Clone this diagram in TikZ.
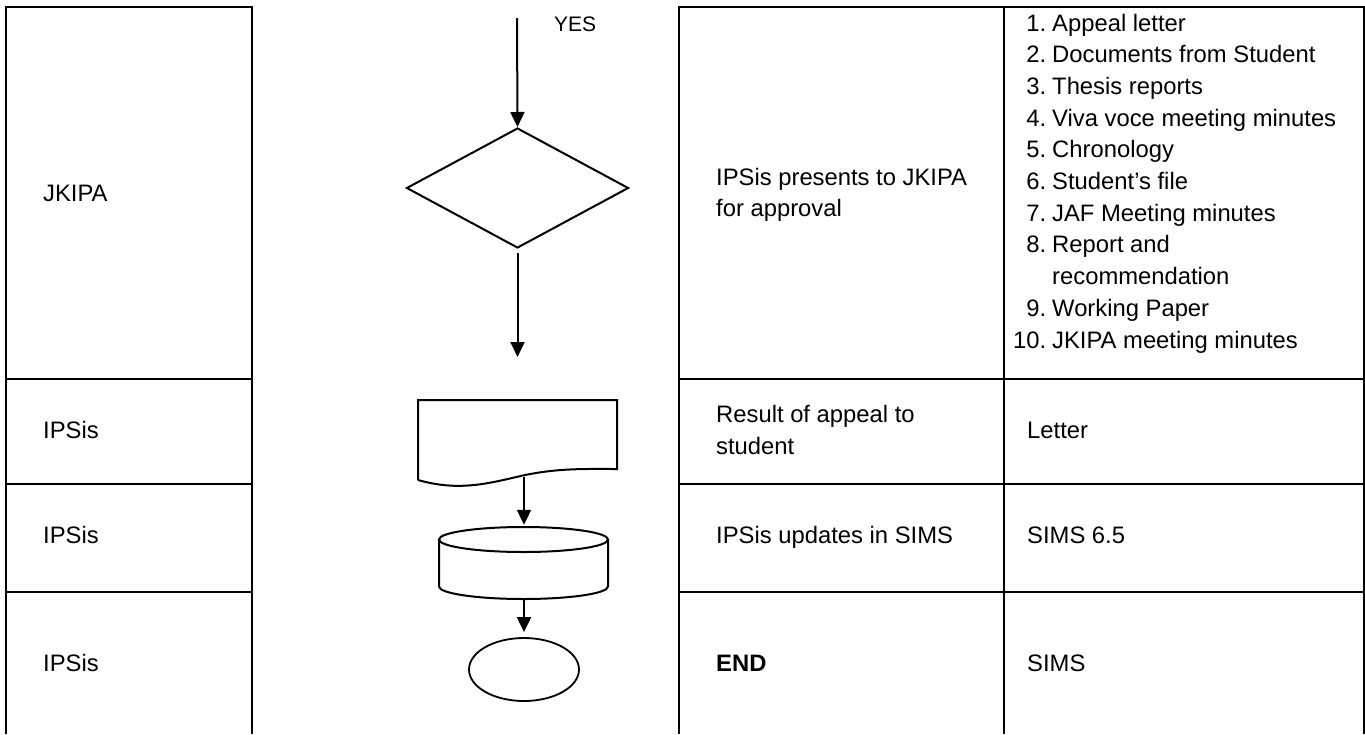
\documentclass[tikz,border=0pt]{standalone}
\usepackage{fontspec}
\setmainfont{Liberation Sans}
\usetikzlibrary{shapes.geometric,arrows.meta}
\begin{document}
\begin{tikzpicture}[x=1pt,y=-1pt,
  tbl/.style={line width=2pt},
  lbl/.style={anchor=base west, inner sep=0pt, font=\fontsize{23.8}{31.7}\selectfont},
  num/.style={anchor=base east, inner sep=0pt, font=\fontsize{23.8}{31.7}\selectfont},
  flow/.style={draw, line width=2pt},
  conn/.style={line width=2pt, -{Triangle[length=15pt,width=14pt]}}
]
\useasboundingbox (0,0) rectangle (1365,734);
% left table
\draw[tbl] (6,734) -- (6,7) -- (252,7) -- (252,734);
\draw[tbl] (6,379) -- (252,379);
\draw[tbl] (6,484) -- (252,484);
\draw[tbl] (6,592) -- (252,592);
% right table
\draw[tbl] (679,734) -- (679,7) -- (1364,7) -- (1364,734);
\draw[tbl] (1004,7) -- (1004,734);
\draw[tbl] (679,379) -- (1364,379);
\draw[tbl] (679,484) -- (1364,484);
\draw[tbl] (679,592) -- (1364,592);
% left texts
\node[lbl] (a1) at (43,201) {JKIPA};
\node[lbl] (a2) at (43,438) {IPSis};
\node[lbl] (a3) at (43,543) {IPSis};
\node[lbl] (a4) at (43,671) {IPSis};
% right column 1
\node[lbl] (b1a) at (716,185) {IPSis presents to JKIPA};
\node[lbl] (b1b) at (716,216) {for approval};
\node[lbl] (b2a) at (716,422) {Result of appeal to};
\node[lbl] (b2b) at (716,454) {student};
\node[lbl] (b3) at (716,543) {IPSis updates in SIMS};
\node[lbl, font=\fontsize{23.8}{31.7}\selectfont\bfseries] (b4) at (716,671) {END};
% right column 2
\node[num] (n1) at (1046.5,31) {1.};
\node[lbl] (i1) at (1052,31) {Appeal letter};
\node[num] (n2) at (1046.5,62.7) {2.};
\node[lbl] (i2) at (1052,62.7) {Documents from Student};
\node[num] (n3) at (1046.5,94.4) {3.};
\node[lbl] (i3) at (1052,94.4) {Thesis reports};
\node[num] (n4) at (1046.5,126.1) {4.};
\node[lbl] (i4) at (1052,126.1) {Viva voce meeting minutes};
\node[num] (n5) at (1046.5,157.8) {5.};
\node[lbl] (i5) at (1052,157.8) {Chronology};
\node[num] (n6) at (1046.5,189.5) {6.};
\node[lbl] (i6) at (1052,189.5) {Student’s file};
\node[num] (n7) at (1046.5,221.2) {7.};
\node[lbl] (i7) at (1052,221.2) {JAF Meeting minutes};
\node[num] (n8) at (1046.5,252.9) {8.};
\node[lbl] (i8) at (1052,252.9) {Report and};
\node[lbl] (i8b) at (1052,284.6) {recommendation};
\node[num] (n9) at (1046.5,316.3) {9.};
\node[lbl] (i9) at (1052,316.3) {Working Paper};
\node[num] (n10) at (1046.5,348) {10.};
\node[lbl] (i10) at (1052,348) {JKIPA meeting minutes};
\node[lbl] (c2) at (1027,438) {Letter};
\node[lbl] (c3) at (1027,543) {SIMS 6.5};
\node[lbl] (c4) at (1027,671) {SIMS};
% flow shapes
\node[lbl, font=\fontsize{21}{28}\selectfont] (yes) at (554,31) {YES};
\coordinate (start) at (517,18);
\node[flow, diamond, minimum width=222pt, minimum height=120pt, inner sep=0pt] (dia) at (517.5,188) {};
\coordinate (out1) at (517.5,357);
\node[inner sep=0pt, minimum width=199pt, minimum height=85pt] (doc) at (517.5,442.5) {};
\draw[flow, line join=miter] (418,480) -- (418,400) -- (617,400) -- (617,469)
  .. controls (585,469) and (560,468) .. (525,475)
  .. controls (490,483) and (460,492) .. (418,480);
\coordinate (docb) at (524,477);
\node[inner sep=0pt, minimum width=169pt, minimum height=72pt] (cyl) at (523.5,563) {};
\draw[flow] (523.5,539.5) ellipse [x radius=84.5, y radius=12.5];
\draw[flow] (439,539.5) -- (439,586.5) arc[start angle=180, end angle=360, x radius=84.5, y radius=-12.5] -- (608,539.5);
\node[flow, ellipse, minimum width=110pt, minimum height=63pt, inner sep=0pt, line width=1.8pt] (ell) at (524,669.5) {};
% connectors
\draw[conn] (start) -- (dia.north);
\draw[conn, shorten <=4pt] (dia.south) -- (out1);
\draw[conn, shorten >=2pt] (docb) -- (docb |- cyl.north);
\draw[conn, shorten >=5pt] (cyl.south -| ell.north) -- (ell.north);
\end{tikzpicture}
\end{document}
